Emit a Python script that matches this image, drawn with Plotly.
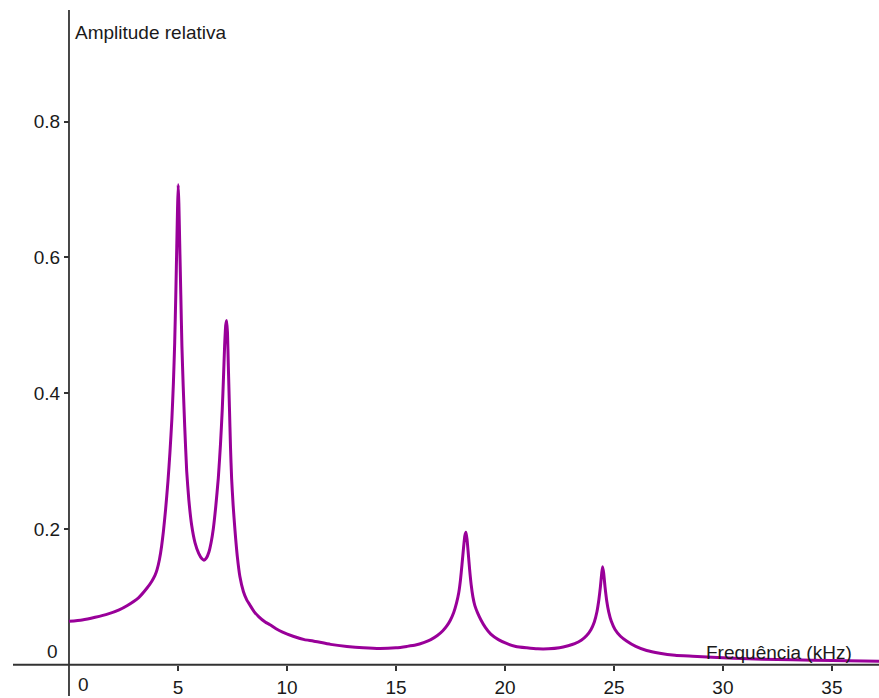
import plotly.graph_objects as go

# Frequency response: relative amplitude vs frequency (kHz)
freq_khz = [
    0.0, 0.6, 1.2, 1.8, 2.3, 2.66, 3.2, 3.58, 3.8, 3.95, 4.04, 4.15, 4.25, 4.33, 4.43,
    4.54, 4.63, 4.72, 4.79, 4.85, 4.90, 4.95, 4.98, 5.01, 5.04, 5.08, 5.13, 5.18, 5.24,
    5.31, 5.40, 5.50, 5.63, 5.78, 5.95, 6.10, 6.19, 6.30, 6.42, 6.52, 6.62, 6.73, 6.85,
    6.95, 7.03, 7.09, 7.14, 7.19, 7.23, 7.27, 7.31, 7.36, 7.41, 7.46, 7.53, 7.61, 7.72,
    7.84, 8.0, 8.15, 8.30, 8.5, 8.7, 9.0, 9.22, 9.5, 9.8, 10.28, 10.8, 11.2, 12.0, 12.75,
    13.5, 14.27, 15.0, 15.5, 15.9, 16.3, 16.6, 16.9, 17.15, 17.35, 17.5, 17.65, 17.78,
    17.88, 17.96, 18.03, 18.10, 18.16, 18.21, 18.26, 18.32, 18.38, 18.45, 18.53, 18.62,
    18.75, 18.9, 19.1, 19.35, 19.7, 20.1, 20.5, 21.0, 21.5, 22.0, 22.5, 22.9, 23.2, 23.5,
    23.75, 23.95, 24.1, 24.22, 24.31, 24.38, 24.44, 24.48, 24.53, 24.59, 24.67, 24.76,
    24.88, 25.05, 25.3, 25.58, 26.0, 26.5, 27.1, 27.8, 28.6, 29.5, 30.5, 31.8, 33.2,
    35.0, 37.2,
]
amplitude = [
    0.064, 0.066, 0.070, 0.075, 0.081, 0.087, 0.099, 0.113, 0.123, 0.132, 0.140, 0.155,
    0.175, 0.196, 0.228, 0.270, 0.312, 0.362, 0.415, 0.475, 0.545, 0.625, 0.672, 0.707,
    0.680, 0.620, 0.545, 0.470, 0.410, 0.350, 0.285, 0.242, 0.205, 0.180, 0.164, 0.156,
    0.154, 0.157, 0.166, 0.180, 0.200, 0.232, 0.275, 0.325, 0.375, 0.425, 0.470, 0.500,
    0.507, 0.490, 0.440, 0.380, 0.320, 0.275, 0.235, 0.200, 0.160, 0.130, 0.108, 0.096,
    0.088, 0.078, 0.071, 0.063, 0.059, 0.053, 0.048, 0.042, 0.037, 0.035, 0.030, 0.027,
    0.025, 0.024, 0.025, 0.027, 0.029, 0.033, 0.037, 0.043, 0.050, 0.058, 0.066, 0.077,
    0.091, 0.106, 0.125, 0.148, 0.172, 0.190, 0.195, 0.185, 0.163, 0.140, 0.118, 0.100,
    0.087, 0.076, 0.066, 0.055, 0.045, 0.037, 0.031, 0.027, 0.025, 0.0235, 0.0235, 0.025,
    0.028, 0.031, 0.036, 0.043, 0.052, 0.063, 0.078, 0.096, 0.115, 0.135, 0.1445, 0.135,
    0.115, 0.094, 0.078, 0.064, 0.052, 0.042, 0.035, 0.027, 0.021, 0.017, 0.014, 0.0125,
    0.011, 0.0095, 0.0083, 0.0073, 0.0062, 0.005,
]

x_ticks = [5, 10, 15, 20, 25, 30, 35]
x_tick_labels = ["5", "10", "15", "20", "25", "30", "35"]
y_ticks = [0.2, 0.4, 0.6, 0.8]
y_tick_labels = ["0.2", "0.4", "0.6", "0.8"]

W, H = 879, 698
X_RANGE = [-3.165, 37.16]
Y_RANGE = [-0.046, 0.979]
AXIS_COLOR = "#333333"
TEXT_COLOR = "#1a1a1a"
FONT = dict(family="Liberation Sans, Arial, sans-serif", size=19, color=TEXT_COLOR)

# paper-fraction position of the data origin
x0_frac = (0 - X_RANGE[0]) / (X_RANGE[1] - X_RANGE[0])
y0_frac = (0 - Y_RANGE[0]) / (Y_RANGE[1] - Y_RANGE[0])

fig = go.Figure()
fig.add_trace(go.Scatter(
    x=freq_khz, y=amplitude, mode="lines",
    line=dict(color="#990099", width=3, shape="spline", smoothing=0.5),
    hoverinfo="skip", showlegend=False,
))

fig.update_layout(
    width=W, height=H,
    margin=dict(l=0, r=0, t=0, b=0),
    paper_bgcolor="white", plot_bgcolor="white",
    font=FONT,
    xaxis=dict(
        range=X_RANGE, showgrid=False, zeroline=False, showline=False,
        tickvals=x_ticks, ticktext=x_tick_labels,
        ticks="outside", ticklen=5, tickwidth=1.5, tickcolor=AXIS_COLOR,
        anchor="free", position=y0_frac, tickfont=FONT,
    ),
    yaxis=dict(
        range=Y_RANGE, showgrid=False, zeroline=False, showline=False,
        tickvals=y_ticks, ticktext=y_tick_labels,
        ticks="outside", ticklen=5, tickwidth=1.5, tickcolor=AXIS_COLOR,
        anchor="free", position=x0_frac, tickfont=FONT,
    ),
    shapes=[
        # horizontal axis
        dict(type="line", xref="paper", yref="y", x0=13 / W, x1=1, y0=0, y1=0,
             line=dict(color=AXIS_COLOR, width=1.8), layer="below"),
        # vertical axis
        dict(type="line", xref="x", yref="paper", x0=0, x1=0, y0=0, y1=1 - 10 / H,
             line=dict(color=AXIS_COLOR, width=1.8), layer="below"),
    ],
    annotations=[
        dict(text="0", xref="x", yref="y", x=0, y=0, xanchor="left", yanchor="top",
             xshift=7, yshift=-7, showarrow=False, font=FONT),
        dict(text="0", xref="x", yref="y", x=0, y=0, xanchor="right", yanchor="bottom",
             xshift=-9, yshift=1, showarrow=False, font=FONT),
        dict(text="Amplitude relativa", xref="x", yref="paper", x=0, y=1 - 33 / H,
             xanchor="left", yanchor="middle", xshift=4, showarrow=False, font=FONT),
        dict(text="Frequência (kHz)", xref="paper", yref="y", x=704 / W, y=0,
             xanchor="left", yanchor="bottom", yshift=0, showarrow=False, font=FONT),
    ],
)

fig.write_html("out.html")
